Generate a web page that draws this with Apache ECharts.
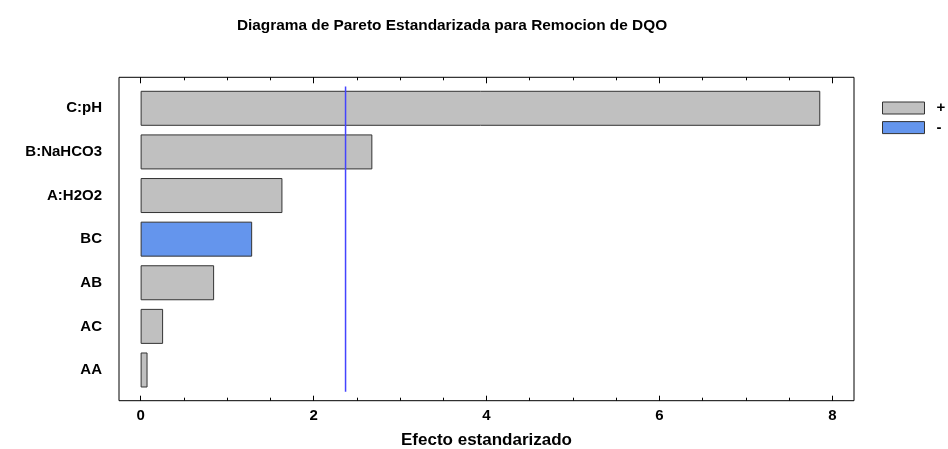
<!DOCTYPE html>
<html>
<head>
<meta charset="utf-8">
<script src="https://cdn.jsdelivr.net/npm/echarts@6/dist/echarts.min.js"></script>
<style>html,body{margin:0;padding:0;background:#fff}#c{width:948px;height:449px}</style>
</head>
<body>
<div id="c"></div>
<script>
// Data (top to bottom)
var categories = ['C:pH', 'B:NaHCO3', 'A:H2O2', 'BC', 'AB', 'AC', 'AA'];
var effects = [7.86, 2.68, 1.64, 1.29, 0.85, 0.26, 0.08];
var signs = ['+', '+', '+', '-', '+', '+', '+'];
var threshold = 2.37;
var tickValues = [0, 2, 4, 6, 8];
var minorTickValues = [0, 0.5, 1, 1.5, 2, 2.5, 3, 3.5, 4, 4.5, 5, 5.5, 6, 6.5, 7, 7.5, 8];
var xMin = -0.25, xMax = 8.25;

var posData = effects.map(function (v, i) { return signs[i] === '+' ? v : null; });
var negData = effects.map(function (v, i) { return signs[i] === '-' ? v : null; });

var FONT = 'Liberation Sans, Arial, sans-serif';
var LINE_BLUE = '#4444ff';
var chart = echarts.init(document.getElementById('c'), null, { renderer: 'canvas' });

var gridL = 119, gridR = 94;
function tickAxis(pos, values, len, withLabel) {
  return {
    type: 'value', gridIndex: 1, position: pos, min: xMin, max: xMax, offset: 0,
    axisLine: { show: false },
    splitLine: { show: false },
    axisTick: { show: true, inside: true, length: len, customValues: values, lineStyle: { color: '#000', width: 1 } },
    axisLabel: { show: !!withLabel, customValues: values, color: '#000', fontFamily: FONT, fontWeight: 'bold', fontSize: 15, margin: 8 }
  };
}
var xMajorBottom = tickAxis('bottom', tickValues, 5, true);
xMajorBottom.name = 'Efecto estandarizado';
xMajorBottom.nameLocation = 'middle';
xMajorBottom.nameGap = 31;
xMajorBottom.nameTextStyle = { color: '#000', fontFamily: FONT, fontWeight: 'bold', fontSize: 17 };

chart.setOption({
  animation: false,
  backgroundColor: '#fff',
  title: {
    text: 'Diagrama de Pareto Estandarizada para Remocion de DQO',
    left: 447, top: 13, textAlign: 'center',
    textStyle: { color: '#000', fontFamily: FONT, fontWeight: 'bold', fontSize: 15.4 }
  },
  legend: {
    orient: 'vertical', left: 882, top: 100.5, padding: 0,
    itemWidth: 42, itemHeight: 12, itemGap: 4.6, itemStyle: { borderWidth: 1, borderColor: '#333' },
    textStyle: { color: '#000', fontFamily: FONT, fontWeight: 'bold', fontSize: 15, lineHeight: 12, padding: [0, 0, 0, 7] },
    icon: 'rect',
    data: ['+', '-']
  },
  grid: [
    { left: gridL, right: gridR, top: 86.5, bottom: 57.2, containLabel: false, outerBoundsMode: 'none' },
    { left: gridL, right: gridR, top: 77.3, bottom: 48.3, containLabel: false, outerBoundsMode: 'none',
      show: true, borderColor: '#000', borderWidth: 1, backgroundColor: 'transparent' }
  ],
  xAxis: [
    { type: 'value', gridIndex: 0, min: xMin, max: xMax, show: false, splitLine: { show: false } },
    xMajorBottom,
    tickAxis('bottom', minorTickValues, 3, false),
    tickAxis('top', tickValues, 6, false),
    tickAxis('top', minorTickValues, 3, false)
  ],
  yAxis: [
    {
      type: 'category', gridIndex: 0, data: categories, inverse: true,
      axisLine: { show: false }, axisTick: { show: false }, splitLine: { show: false },
      axisLabel: { color: '#000', fontFamily: FONT, fontWeight: 'bold', fontSize: 15, margin: 17 }
    },
    { type: 'value', gridIndex: 1, show: false, min: 0, max: 1 },
    { type: 'value', gridIndex: 0, show: false, min: 0, max: 1, splitLine: { show: false } }
  ],
  series: [
    {
      name: '+', type: 'bar', xAxisIndex: 0, yAxisIndex: 0, stack: 'e',
      data: posData, barWidth: 35, color: '#c0c0c0',
      itemStyle: { color: '#c0c0c0', borderColor: '#333', borderWidth: 1 }
    },
    {
      name: '-', type: 'bar', xAxisIndex: 0, yAxisIndex: 0, stack: 'e',
      data: negData, barWidth: 35, color: '#6495ed',
      itemStyle: { color: '#6495ed', borderColor: '#333', borderWidth: 1 }
    },
    {
      name: 'threshold', type: 'line', xAxisIndex: 0, yAxisIndex: 2,
      data: [[threshold, 0], [threshold, 1]],
      color: LINE_BLUE,
      showSymbol: false, symbol: 'none', silent: true,
      lineStyle: { color: LINE_BLUE, width: 1.5, opacity: 1 },
      itemStyle: { color: LINE_BLUE },
      z: 5
    }
  ]
});
</script>
</body>
</html>
